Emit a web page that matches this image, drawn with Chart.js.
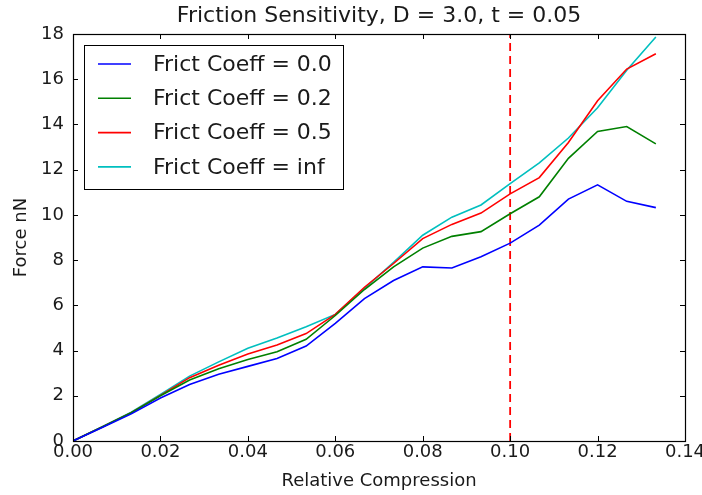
<!DOCTYPE html>
<html>
<head>
<meta charset="utf-8">
<script src="https://cdn.jsdelivr.net/npm/chart.js@4/dist/chart.umd.min.js"></script>
<style>
  html, body { margin: 0; padding: 0; background: #fff; }
  #wrap { width: 702px; height: 495px; position: relative; }
</style>
</head>
<body>
<div id="wrap"><canvas id="chart"></canvas></div>
<script>
// relative compression samples (step 1/150)
const compression = [0, 0.00667, 0.01333, 0.02, 0.02667, 0.03333, 0.04, 0.04667, 0.05333, 0.06,
  0.06667, 0.07333, 0.08, 0.08667, 0.09333, 0.1, 0.10667, 0.11333, 0.12, 0.12667, 0.13333];

const force00 = [0, 0.6, 1.2, 1.9, 2.5, 2.95, 3.3, 3.65, 4.2, 5.2,
  6.3, 7.1, 7.7, 7.65, 8.15, 8.75, 9.55, 10.7, 11.33, 10.6, 10.32];
const force02 = [0, 0.62, 1.25, 2.0, 2.7, 3.2, 3.6, 3.95, 4.5, 5.55,
  6.7, 7.7, 8.53, 9.05, 9.26, 10.05, 10.8, 12.5, 13.69, 13.91, 13.14];
const force05 = [0, 0.62, 1.25, 2.02, 2.8, 3.35, 3.85, 4.25, 4.75, 5.6,
  6.8, 7.85, 8.95, 9.58, 10.08, 10.93, 11.65, 13.2, 15.05, 16.45, 17.13];
const forceInf = [0, 0.63, 1.27, 2.06, 2.87, 3.5, 4.1, 4.55, 5.05, 5.6,
  6.75, 7.9, 9.1, 9.9, 10.44, 11.38, 12.3, 13.4, 14.74, 16.4, 17.87];

const seriesNames = ['Frict Coeff = 0.0', 'Frict Coeff = 0.2', 'Frict Coeff = 0.5', 'Frict Coeff = inf'];
const seriesColors = ['#0000ff', '#008000', '#ff0000', '#00bfbf'];
const xTicks = [0, 0.02, 0.04, 0.06, 0.08, 0.1, 0.12, 0.14];
const yTicks = [0, 2, 4, 6, 8, 10, 12, 14, 16, 18];
const markerX = 0.1;
const titleText = 'Friction Sensitivity, D = 3.0, t = 0.05';

const FONT = 'DejaVu Sans';
const TXT = '#1a1a1a';

function pts(ys) {
  return compression.map((x, i) => ({ x: x, y: ys[i] }));
}

const lineSets = [force00, force02, force05, forceInf].map((ys, i) => ({
  label: seriesNames[i],
  data: pts(ys),
  borderColor: seriesColors[i],
  borderWidth: 1.6,
  pointRadius: 0,
  tension: 0,
  fill: false
}));

lineSets.push({
  label: 'marker',
  data: [{ x: markerX, y: yTicks[0] }, { x: markerX, y: yTicks[yTicks.length - 1] }],
  borderColor: '#ff0000',
  borderWidth: 1.8,
  borderDash: [8, 5],
  pointRadius: 0,
  fill: false
});

// matplotlib-style frame: inward ticks on all four sides, title, legend box
const framePlugin = {
  id: 'frame',
  afterDatasetsDraw(chart) {
    const { ctx, chartArea: a, scales } = chart;
    ctx.save();
    ctx.strokeStyle = '#000';
    ctx.lineWidth = 1;
    const t = 5;
    xTicks.forEach(v => {
      const px = Math.round(scales.x.getPixelForValue(v)) + 0.5;
      ctx.beginPath();
      ctx.moveTo(px, a.bottom); ctx.lineTo(px, a.bottom - t);
      ctx.moveTo(px, a.top); ctx.lineTo(px, a.top + t);
      ctx.stroke();
    });
    yTicks.forEach(v => {
      const py = Math.round(scales.y.getPixelForValue(v)) + 0.5;
      ctx.beginPath();
      ctx.moveTo(a.left, py); ctx.lineTo(a.left + t, py);
      ctx.moveTo(a.right, py); ctx.lineTo(a.right - t, py);
      ctx.stroke();
    });
    ctx.lineWidth = 1.2;
    ctx.strokeRect(Math.round(a.left) + 0.5, Math.round(a.top) + 0.5,
      Math.round(a.right - a.left), Math.round(a.bottom - a.top));

    // title, centred over the plot area
    ctx.fillStyle = TXT;
    ctx.font = '22px "' + FONT + '"';
    ctx.textAlign = 'center';
    ctx.textBaseline = 'middle';
    ctx.fillText(titleText, (a.left + a.right) / 2, 16);

    // legend
    const lx = 84, ly = 45, lw = 259, lh = 144;
    ctx.fillStyle = '#fff';
    ctx.fillRect(lx, ly, lw, lh);
    ctx.strokeStyle = '#000';
    ctx.lineWidth = 1;
    ctx.strokeRect(lx + 0.5, ly + 0.5, lw, lh);
    ctx.font = '22px "' + FONT + '"';
    ctx.textBaseline = 'middle';
    ctx.textAlign = 'left';
    seriesNames.forEach((name, i) => {
      const y = 64 + i * 34.3;
      ctx.strokeStyle = seriesColors[i];
      ctx.lineWidth = 1.6;
      ctx.beginPath();
      ctx.moveTo(98, y); ctx.lineTo(131, y);
      ctx.stroke();
      ctx.fillStyle = TXT;
      ctx.fillText(name, 153, y + 1);
    });
    ctx.restore();
  }
};

new Chart(document.getElementById('chart'), {
  type: 'line',
  data: { datasets: lineSets },
  options: {
    responsive: true,
    maintainAspectRatio: false,
    animation: false,
    layout: { padding: { top: 34, right: 17, left: 0, bottom: 0 } },
    plugins: {
      legend: { display: false },
      tooltip: { enabled: false },
      title: { display: false }
    },
    scales: {
      x: {
        type: 'linear',
        min: 0, max: 0.14,
        afterFit(s) { s.height = 54; s.paddingLeft = 0; s.paddingRight = 0; },
        afterBuildTicks(s) { s.ticks = xTicks.map(v => ({ value: v })); },
        grid: { display: false, drawTicks: false },
        border: { display: true, color: '#000' },
        ticks: {
          padding: 1,
          color: TXT,
          font: { family: FONT, size: 18 },
          maxRotation: 0,
          callback: v => v.toFixed(2)
        },
        title: {
          display: true,
          text: 'Relative Compression',
          color: TXT,
          font: { family: FONT, size: 18 },
          padding: { top: 0, bottom: 3 }
        }
      },
      y: {
        type: 'linear',
        min: 0, max: 18,
        afterFit(s) { s.width = 73; s.paddingTop = 0; s.paddingBottom = 0; },
        afterBuildTicks(s) { s.ticks = yTicks.map(v => ({ value: v })); },
        grid: { display: false, drawTicks: false },
        border: { display: true, color: '#000' },
        ticks: {
          padding: 9,
          color: TXT,
          font: { family: FONT, size: 18 },
          callback: v => String(v)
        },
        title: {
          display: true,
          text: 'Force nN',
          color: TXT,
          font: { family: FONT, size: 18 },
          padding: { top: 11, bottom: 0 }
        }
      }
    }
  },
  plugins: [framePlugin]
});
</script>
</body>
</html>
